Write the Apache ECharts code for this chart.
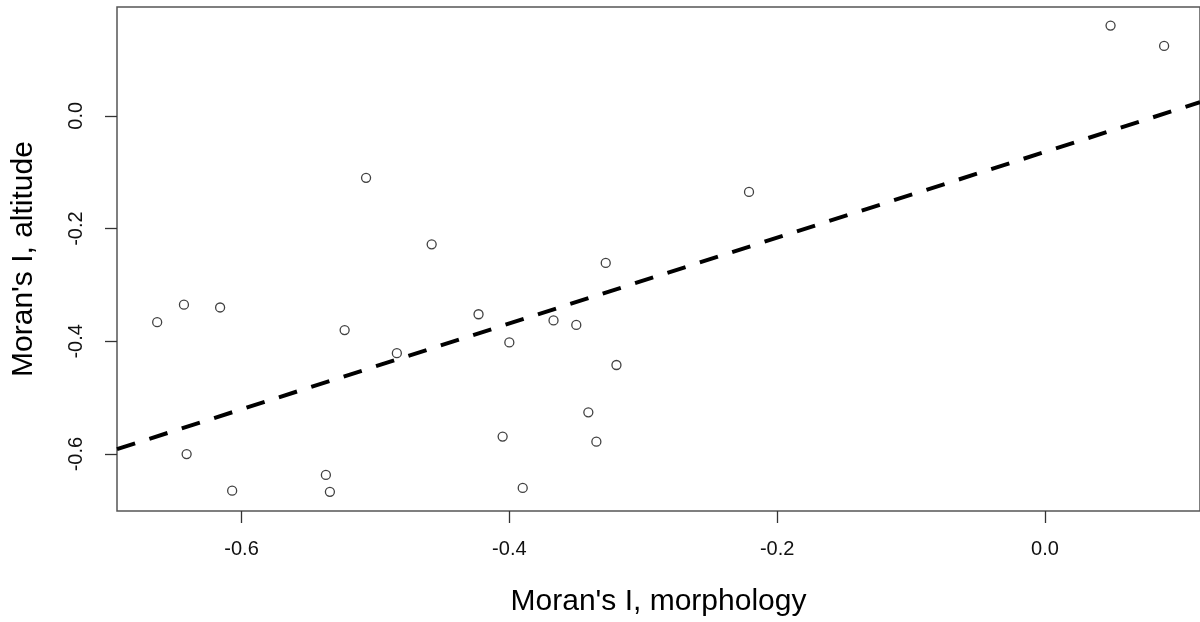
<!DOCTYPE html>
<html>
<head>
<meta charset="utf-8">
<script src="https://cdn.jsdelivr.net/npm/echarts@6/dist/echarts.min.js"></script>
<style>
html,body{margin:0;padding:0;background:#fff;}
#chart{width:1200px;height:622px;}
</style>
</head>
<body>
<div id="chart"></div>
<script>
// Moran's I, morphology (x) vs Moran's I, altitude (y)
var morphology = [-0.663, -0.643, -0.616, -0.641, -0.607, -0.537, -0.534, -0.523, -0.507, -0.484, -0.458, -0.423, -0.405, -0.400, -0.390, -0.367, -0.350, -0.341, -0.335, -0.328, -0.320, -0.221, 0.049, 0.089];
var altitude   = [-0.366, -0.335, -0.340, -0.600, -0.665, -0.637, -0.667, -0.380, -0.110, -0.421, -0.228, -0.352, -0.569, -0.402, -0.660, -0.363, -0.371, -0.526, -0.578, -0.261, -0.442, -0.135, 0.160, 0.124];
// fitted regression line
var fitIntercept = -0.064;
var fitSlope = 0.761;
var xTicks = [-0.6, -0.4, -0.2, 0.0];
var yTicks = [-0.6, -0.4, -0.2, 0.0];
var xRange = [-0.693, 0.1158];
var yRange = [-0.701, 0.193];

var points = morphology.map(function (x, i) { return [x, altitude[i]]; });
var fitLine = xRange.map(function (x) { return [x, fitIntercept + fitSlope * x]; });

var chart = echarts.init(document.getElementById('chart'), null, {renderer: 'canvas'});
var font = 'Liberation Sans, Arial, sans-serif';
chart.setOption({
  animation: false,
  backgroundColor: '#fff',
  grid: {left: 117, top: 7, right: 0, height: 505, show: true, borderColor: '#555', borderWidth: 1.5, backgroundColor: 'transparent'},
  xAxis: {
    type: 'value', min: xRange[0], max: xRange[1], position: 'bottom',
    name: "Moran's I, morphology", nameLocation: 'middle', nameGap: 76,
    nameTextStyle: {fontFamily: font, fontSize: 30, color: '#000'},
    axisLine: {show: false, onZero: false},
    splitLine: {show: false},
    axisTick: {show: true, inside: false, length: 12, customValues: xTicks, lineStyle: {color: '#333', width: 1.3}},
    axisLabel: {show: true, margin: 28, fontFamily: font, fontSize: 20, color: '#111', customValues: xTicks,
      formatter: function (v) { return v.toFixed(1); }}
  },
  yAxis: {
    type: 'value', min: yRange[0], max: yRange[1], position: 'left',
    name: "Moran's I, altitude", nameLocation: 'middle', nameGap: 78,
    nameTextStyle: {fontFamily: font, fontSize: 30, color: '#000'},
    axisLine: {show: false, onZero: false},
    splitLine: {show: false},
    axisTick: {show: true, inside: false, length: 12, customValues: yTicks, lineStyle: {color: '#333', width: 1.3}},
    axisLabel: {show: true, rotate: 90, margin: 31, fontFamily: font, fontSize: 20, color: '#111', customValues: yTicks,
      formatter: function (v) { return v.toFixed(1); }}
  },
  series: [
    {
      type: 'line', data: fitLine, symbol: 'none', silent: true, clip: true,
      lineStyle: {color: '#000', width: 4, type: [19, 15], cap: 'butt'},
      z: 2
    },
    {
      type: 'scatter', data: points, symbol: 'circle', symbolSize: 9,
      itemStyle: {color: '#fff', borderColor: '#111', borderWidth: 1.3},
      z: 3
    }
  ]
});
</script>
</body>
</html>
